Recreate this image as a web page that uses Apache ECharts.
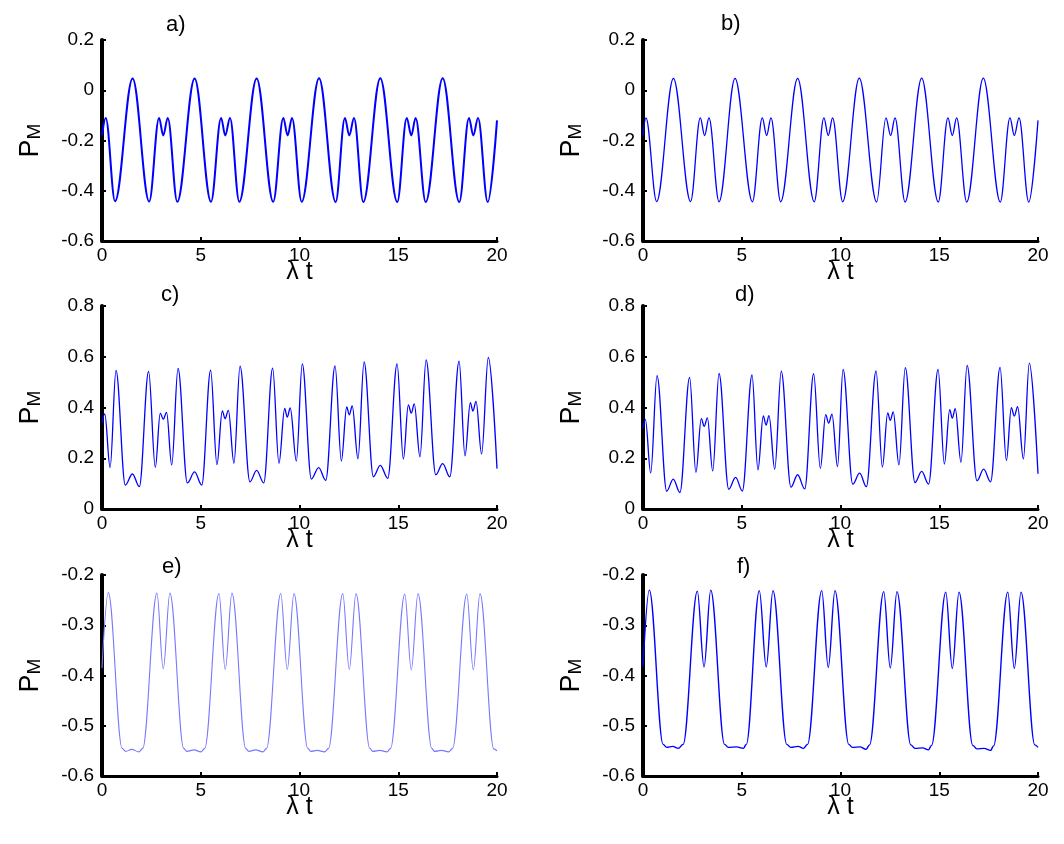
<!DOCTYPE html>
<html><head><meta charset="utf-8">
<script src="https://cdn.jsdelivr.net/npm/echarts@6.0.0/dist/echarts.min.js"></script>
<style>html,body{margin:0;padding:0;background:#fff}#c{width:1064px;height:844px}</style>
</head><body><div id="c"></div><script>
// ---- data (x = λt, y = P_M) ----
const tA = [0,0.19,0.66,1.55,2.39,2.89,3.10,3.33,3.81,4.69,5.52,6.03,6.24,6.48,6.95,7.83,8.67,9.18,9.40,9.62,10.11,10.99,11.83,12.30,12.52,12.76,13.23,14.09,14.95,15.43,15.66,15.88,16.39,17.25,18.09,18.58,18.80,19.04,19.53,20];
const pA = [-0.18,-0.11,-0.442,0.047,-0.443,-0.11,-0.18,-0.11,-0.444,0.047,-0.444,-0.11,-0.18,-0.11,-0.444,0.047,-0.444,-0.11,-0.18,-0.11,-0.444,0.048,-0.445,-0.11,-0.18,-0.11,-0.445,0.048,-0.445,-0.11,-0.18,-0.11,-0.445,0.048,-0.445,-0.11,-0.18,-0.11,-0.445,-0.12];

const tB = [0,0.15,0.69,1.54,2.41,2.90,3.12,3.34,3.85,4.66,5.54,6.04,6.26,6.48,6.97,7.83,8.67,9.16,9.38,9.60,10.11,10.95,11.83,12.30,12.54,12.76,13.27,14.11,14.95,15.44,15.66,15.88,16.39,17.23,18.09,18.58,18.80,19.04,19.53,20];
const pB = [-0.18,-0.11,-0.443,0.047,-0.443,-0.11,-0.18,-0.11,-0.444,0.047,-0.444,-0.11,-0.18,-0.11,-0.444,0.047,-0.444,-0.11,-0.18,-0.11,-0.444,0.048,-0.445,-0.11,-0.18,-0.11,-0.445,0.048,-0.445,-0.11,-0.18,-0.11,-0.445,0.048,-0.445,-0.11,-0.18,-0.11,-0.445,-0.12];

const tC = [0,0.14,0.41,0.71,1.18,1.54,1.89,2.36,2.70,2.95,3.10,3.27,3.53,3.85,4.32,4.69,5.05,5.50,5.82,6.09,6.23,6.40,6.68,6.99,7.49,7.83,8.19,8.64,8.96,9.25,9.38,9.53,9.84,10.14,10.60,10.97,11.33,11.80,12.12,12.39,12.52,12.67,12.96,13.27,13.74,14.09,14.47,14.94,15.26,15.51,15.66,15.81,16.10,16.41,16.90,17.25,17.61,18.08,18.38,18.65,18.78,18.94,19.22,19.56,20];
const pC = [0.339,0.375,0.163,0.546,0.094,0.138,0.088,0.542,0.164,0.378,0.354,0.381,0.173,0.554,0.103,0.146,0.094,0.547,0.175,0.387,0.356,0.389,0.180,0.563,0.107,0.152,0.103,0.555,0.180,0.396,0.362,0.398,0.189,0.572,0.118,0.163,0.113,0.564,0.189,0.402,0.371,0.406,0.198,0.580,0.127,0.172,0.121,0.572,0.197,0.410,0.378,0.414,0.206,0.588,0.135,0.179,0.127,0.583,0.209,0.419,0.386,0.424,0.217,0.597,0.159];

const tD = [0,0.12,0.39,0.71,1.20,1.53,1.87,2.36,2.68,2.95,3.10,3.26,3.53,3.85,4.34,4.69,5.03,5.52,5.82,6.09,6.23,6.38,6.67,7.00,7.49,7.83,8.19,8.64,8.98,9.25,9.40,9.57,9.85,10.13,10.62,10.97,11.31,11.80,12.12,12.39,12.52,12.67,12.96,13.28,13.77,14.11,14.46,14.94,15.26,15.53,15.66,15.81,16.10,16.41,16.91,17.25,17.60,18.08,18.40,18.65,18.80,18.97,19.26,19.56,20];
const pD = [0.319,0.353,0.142,0.526,0.070,0.118,0.065,0.519,0.144,0.356,0.326,0.359,0.150,0.534,0.078,0.125,0.071,0.528,0.154,0.367,0.331,0.368,0.157,0.543,0.086,0.135,0.079,0.533,0.160,0.372,0.339,0.374,0.167,0.550,0.098,0.141,0.088,0.544,0.165,0.379,0.349,0.383,0.174,0.557,0.104,0.148,0.098,0.550,0.177,0.392,0.358,0.395,0.184,0.566,0.111,0.157,0.107,0.558,0.191,0.399,0.366,0.403,0.197,0.575,0.139];

const tE = [0,0.32,1.02,1.20,1.50,1.87,2.06,2.78,3.10,3.44,4.14,4.29,4.66,5.01,5.20,5.92,6.24,6.58,7.28,7.43,7.78,8.15,8.33,9.05,9.38,9.72,10.42,10.57,10.90,11.27,11.47,12.19,12.52,12.86,13.56,13.71,14.08,14.43,14.61,15.33,15.66,16.00,16.70,16.83,17.20,17.55,17.75,18.47,18.80,19.14,19.84,20];
const pE = [-0.385,-0.235,-0.545,-0.551,-0.547,-0.552,-0.545,-0.236,-0.387,-0.236,-0.545,-0.551,-0.548,-0.552,-0.545,-0.237,-0.388,-0.236,-0.545,-0.551,-0.548,-0.552,-0.545,-0.237,-0.388,-0.237,-0.545,-0.551,-0.549,-0.552,-0.545,-0.237,-0.388,-0.237,-0.545,-0.551,-0.549,-0.552,-0.545,-0.238,-0.389,-0.237,-0.545,-0.551,-0.549,-0.552,-0.545,-0.238,-0.389,-0.237,-0.546,-0.550];

const tF = [0,0.32,1.02,1.20,1.50,1.79,2.03,2.75,3.09,3.43,4.13,4.32,4.74,5.08,5.23,5.89,6.24,6.58,7.28,7.48,7.86,8.12,8.33,9.05,9.38,9.72,10.42,10.60,10.99,11.29,11.47,12.19,12.52,12.86,13.56,13.77,14.16,14.45,14.61,15.33,15.66,16.00,16.70,16.90,17.27,17.60,17.75,18.47,18.80,19.14,19.84,20];
const pF = [-0.382,-0.230,-0.537,-0.543,-0.541,-0.545,-0.537,-0.232,-0.383,-0.230,-0.537,-0.543,-0.542,-0.545,-0.537,-0.231,-0.383,-0.231,-0.537,-0.543,-0.541,-0.545,-0.537,-0.231,-0.384,-0.231,-0.537,-0.543,-0.542,-0.547,-0.538,-0.233,-0.385,-0.233,-0.538,-0.545,-0.544,-0.548,-0.539,-0.234,-0.386,-0.234,-0.539,-0.546,-0.545,-0.549,-0.540,-0.234,-0.386,-0.234,-0.538,-0.543];

const panelLabels = ['a)','b)','c)','d)','e)','f)'];
const xName = 'λ t';
const yName = '{p|P}{m|M}';
const yRanges = [[-0.6,0.2,0.2],[-0.6,0.2,0.2],[0,0.8,0.2],[0,0.8,0.2],[-0.6,-0.2,0.1],[-0.6,-0.2,0.1]];
const xRange = [0,20,5];

// ---- layout / style ----
const FONT = '"Liberation Sans", Arial, Helvetica, sans-serif';
const grids = [
  {left:102, top:40,  width:395, height:201},
  {left:643, top:40,  width:395, height:201},
  {left:102, top:306, width:395, height:203},
  {left:643, top:306, width:395, height:203},
  {left:102, top:575, width:395, height:201},
  {left:643, top:575, width:395, height:201}
];
const labelPos = [[166,14],[721,13],[161,284],[735,284],[162,556],[737,556]];
const lineStyles = [
  {color:'#0000ff', width:2},
  {color:'#0000ff', width:1.3},
  {color:'#0000ff', width:1.3},
  {color:'#0000ff', width:1.3},
  {color:'#7878ff', width:1.1},
  {color:'#0000ff', width:1.4}
];
const tsets = [tA,tB,tC,tD,tE,tF];
const psets = [pA,pB,pC,pD,pE,pF];

const fmt = v => (+v.toFixed(1)).toString();

const option = {
  animation:false,
  backgroundColor:'#fff',
  title: panelLabels.map((t,i)=>({text:t, left:labelPos[i][0], top:labelPos[i][1], padding:0,
    textStyle:{fontSize:22, fontWeight:'normal', fontFamily:FONT, color:'#000'}})),
  grid: grids,
  xAxis: grids.map((g,i)=>({
    type:'value', gridIndex:i, min:xRange[0], max:xRange[1], interval:xRange[2],
    name:xName, nameLocation:'middle', nameGap:19, nameMoveOverlap:false,
    nameTextStyle:{fontSize:25, fontFamily:FONT, color:'#000', verticalAlign:'top'},
    axisLine:{onZero:false, lineStyle:{color:'#000', width:3}},
    axisTick:{inside:true, length:4, lineStyle:{color:'#000', width:2}},
    axisLabel:{fontSize:19, fontFamily:FONT, color:'#000', margin:5},
    splitLine:{show:false}
  })),
  yAxis: grids.map((g,i)=>({
    type:'value', gridIndex:i, min:yRanges[i][0], max:yRanges[i][1], interval:yRanges[i][2],
    name:yName, nameLocation:'middle', nameGap:58, nameRotate:90, nameMoveOverlap:false,
    nameTextStyle:{rich:{
      p:{fontSize:27, fontFamily:FONT, color:'#000', verticalAlign:'bottom', lineHeight:32},
      m:{fontSize:19, fontFamily:FONT, color:'#000', verticalAlign:'bottom', lineHeight:16}
    }},
    axisLine:{onZero:false, lineStyle:{color:'#000', width:4}},
    axisTick:{inside:true, length:4, lineStyle:{color:'#000', width:2}},
    axisLabel:{fontSize:19, fontFamily:FONT, color:'#000', margin:8, formatter:fmt},
    splitLine:{show:false}
  })),
  series: tsets.map((ts,i)=>({
    type:'line', xAxisIndex:i, yAxisIndex:i,
    data: ts.map((t,k)=>[t, psets[i][k]]),
    showSymbol:false, smooth:0.36, smoothMonotone:'x',
    lineStyle:lineStyles[i], z:1
  }))
};
const chart = echarts.init(document.getElementById('c'), null, {renderer:'canvas'});
chart.setOption(option);
</script></body></html>
